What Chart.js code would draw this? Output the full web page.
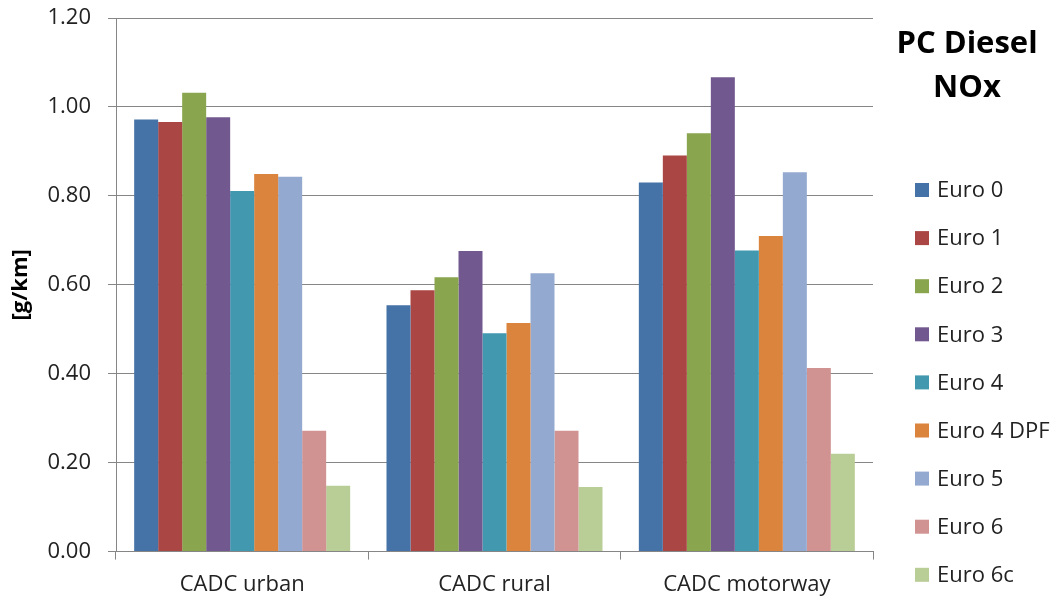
<!DOCTYPE html>
<html>
<head>
<meta charset="utf-8">
<script src="https://cdn.jsdelivr.net/npm/chart.js@4/dist/chart.umd.min.js"></script>
<style>
html,body{margin:0;padding:0;background:#fff;}
#wrap{width:1059px;height:601px;position:relative;}
</style>
</head>
<body>
<div id="wrap"><canvas id="c" width="1059" height="601"></canvas></div>
<script>
// ---- data ----
const categories = ['CADC urban', 'CADC rural', 'CADC motorway'];
const seriesNames = ['Euro 0', 'Euro 1', 'Euro 2', 'Euro 3', 'Euro 4', 'Euro 4 DPF', 'Euro 5', 'Euro 6', 'Euro 6c'];
const euro0    = [0.972, 0.554, 0.830];
const euro1    = [0.966, 0.588, 0.891];
const euro2    = [1.032, 0.617, 0.941];
const euro3    = [0.977, 0.676, 1.067];
const euro4    = [0.811, 0.491, 0.677];
const euro4dpf = [0.849, 0.514, 0.710];
const euro5    = [0.843, 0.626, 0.853];
const euro6    = [0.272, 0.272, 0.413];
const euro6c   = [0.148, 0.145, 0.220];
const yTickValues = [0, 0.2, 0.4, 0.6, 0.8, 1.0, 1.2];
const titleLines = ['PC Diesel', 'NOx'];
const yAxisTitle = '[g/km]';

const seriesValues = [euro0, euro1, euro2, euro3, euro4, euro4dpf, euro5, euro6, euro6c];
const colors = ['#4572A7', '#AA4643', '#89A54E', '#71588F', '#4198AF', '#DB843D', '#93A9CF', '#D19392', '#B9CD96'];

Chart.defaults.font.family = "'Open Sans', 'DejaVu Sans', sans-serif";
Chart.defaults.color = '#222';

const sideLegend = {
  id: 'sideLegend',
  afterDraw(chart) {
    const ctx = chart.ctx;
    ctx.save();
    ctx.fillStyle = '#000';
    ctx.textAlign = 'center';
    ctx.textBaseline = 'middle';
    ctx.font = "bold 31px 'Open Sans', sans-serif";
    titleLines.forEach((t, i) => ctx.fillText(t, 967, 44 + i * 43.8));
    ctx.font = "22px 'Open Sans', sans-serif";
    ctx.textAlign = 'left';
    chart.data.datasets.forEach((ds, i) => {
      const cy = 190 + i * 48.1;
      ctx.fillStyle = ds.backgroundColor;
      ctx.fillRect(915, cy - 7, 14, 14);
      ctx.fillStyle = '#222';
      ctx.fillText(ds.label, 937, cy + 1);
    });
    ctx.restore();
  }
};

new Chart(document.getElementById('c'), {
  type: 'bar',
  data: {
    labels: categories,
    datasets: seriesNames.map((n, i) => ({
      label: n,
      data: seriesValues[i],
      backgroundColor: colors[i],
      borderWidth: 0,
      categoryPercentage: 0.856,
      barPercentage: 1.0
    }))
  },
  options: {
    responsive: false,
    animation: false,
    layout: { padding: { left: 0, right: 186, top: 18, bottom: -9 } },
    plugins: {
      legend: { display: false },
      title: { display: false },
      tooltip: { enabled: false }
    },
    scales: {
      x: {
        grid: { offset: true, drawOnChartArea: false, drawTicks: true, tickLength: 8, color: '#868686', lineWidth: 1 },
        border: { display: true, color: '#868686', width: 1 },
        ticks: { font: { size: 22 }, color: '#222', padding: 12 }
      },
      y: {
        min: 0,
        max: 1.2,
        afterBuildTicks: (scale) => { scale.ticks = yTickValues.map(v => ({ value: v })); },
        afterFit: (scale) => { scale.width = 116; scale.paddingTop = 13; },
        grid: { color: '#868686', lineWidth: 1, drawTicks: true, tickLength: 8 },
        border: { display: true, color: '#868686', width: 1 },
        ticks: { font: { size: 22 }, color: '#222', padding: 17, callback: (v) => Number(v).toFixed(2) },
        title: { display: true, text: yAxisTitle, font: { size: 22, weight: 'bold' }, color: '#000', padding: { top: 8, bottom: 12 } }
      }
    }
  },
  plugins: [sideLegend]
});
</script>
</body>
</html>
